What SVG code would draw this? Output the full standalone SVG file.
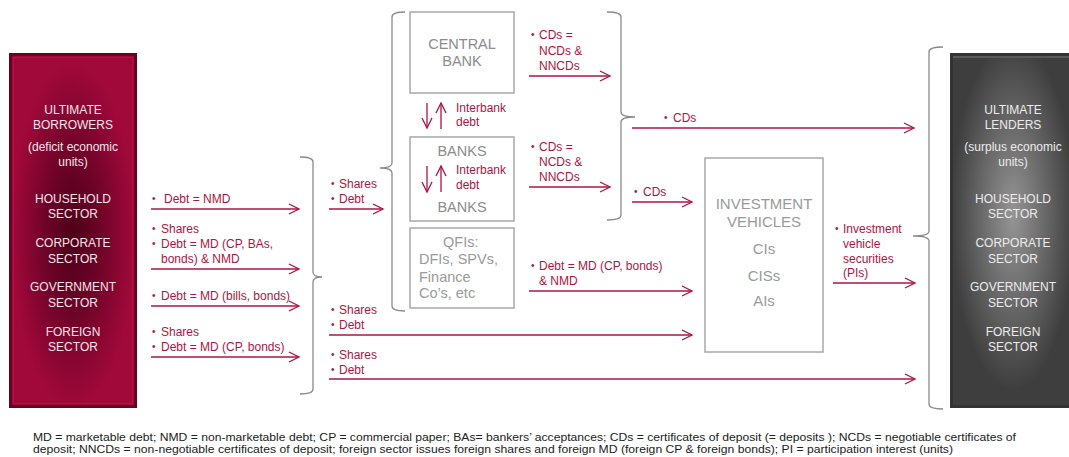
<svg xmlns="http://www.w3.org/2000/svg" width="1069" height="457" viewBox="0 0 1069 457">
<defs>
  <radialGradient id="gRed" cx="73" cy="235" r="1" gradientUnits="userSpaceOnUse" gradientTransform="translate(73 235) scale(62 175) translate(-73 -235)">
    <stop offset="0" stop-color="#4e0019"/>
    <stop offset="0.45" stop-color="#6e0328"/>
    <stop offset="1" stop-color="#a2093b"/>
  </radialGradient>
  <radialGradient id="gGrey" cx="1013" cy="215" r="1" gradientUnits="userSpaceOnUse" gradientTransform="translate(1013 215) scale(62 175) translate(-1013 -215)">
    <stop offset="0" stop-color="#959595"/>
    <stop offset="0.5" stop-color="#6a6a6a"/>
    <stop offset="1" stop-color="#3e3e3e"/>
  </radialGradient>
  <marker id="ah" markerUnits="userSpaceOnUse" markerWidth="12" markerHeight="12" refX="10" refY="5" orient="auto" overflow="visible">
    <path d="M0,0 L10,5 L0,10" fill="none" stroke="#ad1442" stroke-width="1.3"/>
  </marker>
  <style>
    .lbl{font-family:"Liberation Sans",Arial,sans-serif;font-size:12px;fill:#ad1442}
    .bul{font-size:10px}
    .side{font-family:"Liberation Sans",Arial,sans-serif;font-size:12px;text-anchor:middle}
    .red{fill:#f3e3e8}
    .gry{fill:#ececec}
    .box{fill:#ffffff;stroke:#a8a8a8;stroke-width:1.5}
    .bt{font-family:"Liberation Sans",Arial,sans-serif;font-size:14.5px;fill:#8c8c8c;text-anchor:middle}
    .iv{font-size:15px;fill:#9a9a9a}
    .qt{font-family:"Liberation Sans",Arial,sans-serif;font-size:14.5px;fill:#9a9a9a}
    .brace{fill:none;stroke:#8a8a8a;stroke-width:1.3}
    .arr{fill:none;stroke:#ad1442;stroke-width:1.3;marker-end:url(#ah)}
    .note{font-family:"Liberation Sans",Arial,sans-serif;font-size:11px;fill:#222}
  </style>
</defs>
<rect width="1069" height="457" fill="#ffffff"/>

<g id="borrowers">
  <rect x="9" y="53" width="128" height="355" fill="url(#gRed)"/>
  <rect x="10.5" y="54.5" width="125" height="352" fill="none" stroke="#6a0022" stroke-width="3"/>
  <rect x="13.5" y="57.5" width="119" height="346" fill="none" stroke="#b5224f" stroke-width="1" opacity="0.5"/>
  <text class="side red" x="73" y="114">ULTIMATE</text>
  <text class="side red" x="73" y="129">BORROWERS</text>
  <text class="side red" x="73" y="151">(deficit economic</text>
  <text class="side red" x="73" y="166">units)</text>
  <text class="side red" x="73" y="203">HOUSEHOLD</text>
  <text class="side red" x="73" y="218">SECTOR</text>
  <text class="side red" x="73" y="247">CORPORATE</text>
  <text class="side red" x="73" y="263">SECTOR</text>
  <text class="side red" x="73" y="291">GOVERNMENT</text>
  <text class="side red" x="73" y="307">SECTOR</text>
  <text class="side red" x="73" y="336">FOREIGN</text>
  <text class="side red" x="73" y="351">SECTOR</text>
</g>

<g id="lenders">
  <rect x="950" y="53" width="128" height="355" fill="url(#gGrey)"/>
  <rect x="951.5" y="54.5" width="125" height="352" fill="none" stroke="#333" stroke-width="3"/>
  <line x1="953" y1="57" x2="1069" y2="57" stroke="#5a5a5a" stroke-width="2"/>
  <text class="side gry" x="1013" y="114">ULTIMATE</text>
  <text class="side gry" x="1013" y="129">LENDERS</text>
  <text class="side gry" x="1013" y="151">(surplus economic</text>
  <text class="side gry" x="1013" y="166">units)</text>
  <text class="side gry" x="1013" y="203">HOUSEHOLD</text>
  <text class="side gry" x="1013" y="218">SECTOR</text>
  <text class="side gry" x="1013" y="247">CORPORATE</text>
  <text class="side gry" x="1013" y="263">SECTOR</text>
  <text class="side gry" x="1013" y="291">GOVERNMENT</text>
  <text class="side gry" x="1013" y="307">SECTOR</text>
  <text class="side gry" x="1013" y="336">FOREIGN</text>
  <text class="side gry" x="1013" y="351">SECTOR</text>
</g>

<g id="central-bank">
  <rect class="box" x="410" y="12" width="104" height="81"/>
  <text class="bt" x="462" y="49">CENTRAL</text>
  <text class="bt" x="462" y="66">BANK</text>
</g>

<g id="banks">
  <rect class="box" x="410" y="137" width="104" height="84"/>
  <text class="bt" x="462" y="156">BANKS</text>
  <text class="bt" x="462" y="212">BANKS</text>
</g>

<g id="qfis">
  <rect class="box" x="410" y="228" width="104" height="80"/>
  <text class="qt" x="443" y="247">QFIs:</text>
  <text class="qt" x="419" y="264">DFIs, SPVs,</text>
  <text class="qt" x="419" y="282">Finance</text>
  <text class="qt" x="419" y="298">Co’s, etc</text>
</g>

<g id="investment-vehicles">
  <rect class="box" x="705" y="158" width="118" height="194"/>
  <text class="bt iv" x="764" y="209">INVESTMENT</text>
  <text class="bt iv" x="764" y="227">VEHICLES</text>
  <text class="bt iv" x="764" y="254">CIs</text>
  <text class="bt iv" x="764" y="281">CISs</text>
  <text class="bt iv" x="764" y="306">AIs</text>
</g>

<g id="braces">
  <path class="brace" d="M300,157 Q313,157 313,162 L313,272 Q313,277 322,277 Q313,277 313,282 L313,389 Q313,394 300,394"/>
  <path class="brace" d="M405,12 Q392,12 392,17 L392,163 Q392,168 380,168 Q392,168 392,173 L392,306 Q392,311 405,311"/>
  <path class="brace" d="M607,12 Q621,12 621,17 L621,112 Q621,117 635,117 Q621,117 621,122 L621,215 Q621,220 607,220"/>
  <path class="brace" d="M943,47 Q929,47 929,52 L929,231 Q929,236 913,236 Q929,236 929,241 L929,404 Q929,409 943,409"/>
</g>

<g id="connectors">
  <line class="arr" x1="151" y1="209" x2="299" y2="209"/>
  <line class="arr" x1="151" y1="269" x2="299" y2="269"/>
  <line class="arr" x1="151" y1="306" x2="299" y2="306"/>
  <line class="arr" x1="151" y1="357" x2="299" y2="357"/>
  <line class="arr" x1="329" y1="209" x2="383" y2="209"/>
  <line class="arr" x1="329" y1="335" x2="692" y2="335"/>
  <line class="arr" x1="329" y1="379" x2="915" y2="379"/>
  <line class="arr" x1="427" y1="103" x2="427" y2="128"/>
  <line class="arr" x1="441" y1="129" x2="441" y2="103"/>
  <line class="arr" x1="427" y1="166" x2="427" y2="192"/>
  <line class="arr" x1="441" y1="192" x2="441" y2="166"/>
  <line class="arr" x1="529" y1="76" x2="610" y2="76"/>
  <line class="arr" x1="529" y1="187" x2="610" y2="187"/>
  <line class="arr" x1="529" y1="291" x2="692" y2="291"/>
  <line class="arr" x1="632" y1="128" x2="914" y2="128"/>
  <line class="arr" x1="632" y1="202" x2="692" y2="202"/>
  <line class="arr" x1="833" y1="283" x2="915" y2="283"/>
</g>

<g id="labels">
  <text class="lbl" y="203"><tspan class="bul" x="152" dy="-1">•</tspan><tspan x="164" dy="1">Debt = NMD</tspan></text>
  <text class="lbl" y="233"><tspan class="bul" x="152" dy="-1">•</tspan><tspan x="161" dy="1">Shares</tspan></text>
  <text class="lbl" y="248"><tspan class="bul" x="152" dy="-1">•</tspan><tspan x="161" dy="1">Debt = MD (CP, BAs,</tspan></text>
  <text class="lbl" x="161" y="263">bonds) &amp; NMD</text>
  <text class="lbl" y="300"><tspan class="bul" x="152" dy="-1">•</tspan><tspan x="161" dy="1">Debt = MD (bills, bonds)</tspan></text>
  <text class="lbl" y="336"><tspan class="bul" x="152" dy="-1">•</tspan><tspan x="161" dy="1">Shares</tspan></text>
  <text class="lbl" y="351"><tspan class="bul" x="152" dy="-1">•</tspan><tspan x="161" dy="1">Debt = MD (CP, bonds)</tspan></text>

  <text class="lbl" y="188"><tspan class="bul" x="331" dy="-1">•</tspan><tspan x="339" dy="1">Shares</tspan></text>
  <text class="lbl" y="203"><tspan class="bul" x="331" dy="-1">•</tspan><tspan x="339" dy="1">Debt</tspan></text>
  <text class="lbl" y="314"><tspan class="bul" x="331" dy="-1">•</tspan><tspan x="339" dy="1">Shares</tspan></text>
  <text class="lbl" y="329"><tspan class="bul" x="331" dy="-1">•</tspan><tspan x="339" dy="1">Debt</tspan></text>
  <text class="lbl" y="359"><tspan class="bul" x="331" dy="-1">•</tspan><tspan x="339" dy="1">Shares</tspan></text>
  <text class="lbl" y="374"><tspan class="bul" x="331" dy="-1">•</tspan><tspan x="339" dy="1">Debt</tspan></text>

  <text class="lbl" x="456" y="112">Interbank</text>
  <text class="lbl" x="456" y="126">debt</text>
  <text class="lbl" x="456" y="174">Interbank</text>
  <text class="lbl" x="456" y="189">debt</text>

  <text class="lbl" y="39"><tspan class="bul" x="531" dy="-1">•</tspan><tspan x="539" dy="1">CDs =</tspan></text>
  <text class="lbl" x="539" y="55">NCDs &amp;</text>
  <text class="lbl" x="539" y="70">NNCDs</text>
  <text class="lbl" y="151"><tspan class="bul" x="531" dy="-1">•</tspan><tspan x="539" dy="1">CDs =</tspan></text>
  <text class="lbl" x="539" y="166">NCDs &amp;</text>
  <text class="lbl" x="539" y="181">NNCDs</text>
  <text class="lbl" y="270"><tspan class="bul" x="531" dy="-1">•</tspan><tspan x="539" dy="1">Debt = MD (CP, bonds)</tspan></text>
  <text class="lbl" x="539" y="285">&amp; NMD</text>

  <text class="lbl" y="122"><tspan class="bul" x="664" dy="-1">•</tspan><tspan x="673" dy="1">CDs</tspan></text>
  <text class="lbl" y="196"><tspan class="bul" x="634" dy="-1">•</tspan><tspan x="643" dy="1">CDs</tspan></text>

  <text class="lbl" y="233"><tspan class="bul" x="835" dy="-1">•</tspan><tspan x="843" dy="1">Investment</tspan></text>
  <text class="lbl" x="843" y="248">vehicle</text>
  <text class="lbl" x="843" y="263">securities</text>
  <text class="lbl" x="843" y="277">(PIs)</text>
</g>

<g id="notes">
  <text class="note" x="33" y="441" textLength="983" lengthAdjust="spacingAndGlyphs">MD = marketable debt; NMD = non-marketable debt; CP = commercial paper; BAs= bankers’ acceptances; CDs = certificates of deposit (= deposits ); NCDs = negotiable certificates of</text>
  <text class="note" x="33" y="453" textLength="920" lengthAdjust="spacingAndGlyphs">deposit; NNCDs = non-negotiable certificates of deposit; foreign sector issues foreign shares and foreign MD (foreign CP &amp; foreign bonds); PI = participation interest (units)</text>
</g>
</svg>
